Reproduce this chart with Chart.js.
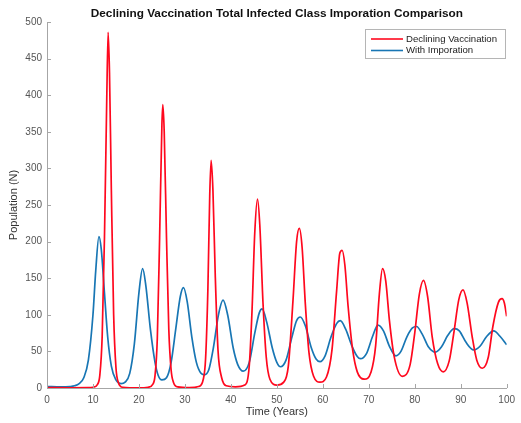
<!DOCTYPE html>
<html>
<head>
<meta charset="utf-8">
<script src="https://cdn.jsdelivr.net/npm/chart.js@4.4.1/dist/chart.umd.min.js"></script>
<style>
  html, body { margin: 0; padding: 0; background: #fff; }
  #wrap { width: 521px; height: 423px; position: relative; }
</style>
</head>
<body>
<div id="wrap"><canvas id="c" width="521" height="423"></canvas></div>
<script>
// Total infected class over time, two scenarios
const chartTitle = 'Declining Vaccination Total Infected Class Imporation Comparison';
const xAxisTitle = 'Time (Years)';
const yAxisTitle = 'Population (N)';
const seriesNames = ['Declining Vaccination', 'With Imporation'];

const xTicks = [0, 10, 20, 30, 40, 50, 60, 70, 80, 90, 100];
const yTicks = [0, 50, 100, 150, 200, 250, 300, 350, 400, 450, 500];

const decliningTime = [
  0, 5, 9, 10, 11, 11.5, 12, 12.5, 13, 13.3, 13.6, 14, 14.5, 15, 15.5, 16.5, 20,
  22, 23, 23.5, 24, 24.5, 25, 25.2, 25.5, 26, 26.5, 27, 27.5, 28.5, 31,
  33, 34, 34.5, 35, 35.4, 35.7, 36.1, 36.6, 37.2, 38, 39, 41,
  43, 44, 44.6, 45.2, 45.8, 46.3, 47, 47.7, 48.5, 50,
  51.5, 52.5, 53.5, 54.3, 54.9, 55.5, 56.2, 57, 58, 59.4,
  60.8, 62, 63, 63.7, 64.2, 64.8, 65.5, 66.5, 67.5, 69,
  70.5, 71.5, 72.3, 73, 73.7, 74.5, 75.5, 77.3,
  79, 80, 81, 81.9, 82.8, 83.8, 85, 86.2,
  87.5, 88.5, 89.6, 90.5, 91.4, 92.5, 93.5, 94.7,
  96, 97, 98.2, 99, 99.5, 100
];
const decliningValues = [
  0.5, 0.3, 0.5, 1, 5, 18, 70, 205, 395, 486, 430, 270, 100, 28, 8, 1, 0.3,
  1, 5, 17, 68, 205, 360, 387, 350, 205, 80, 25, 8, 1.5, 0.5,
  2, 12, 40, 135, 262, 311, 270, 155, 52, 14, 3, 1.5,
  4, 30, 105, 212, 258, 222, 115, 42, 12, 4,
  8, 30, 118, 200, 218, 192, 115, 48, 16, 8,
  15, 52, 132, 184, 188, 168, 112, 52, 22, 12,
  22, 58, 128, 163, 146, 92, 44, 16,
  32, 75, 128, 147, 125, 70, 33, 22,
  37, 75, 121, 134, 116, 70, 38, 27,
  42, 84, 117, 122, 116, 98
];

const importTime = [
  0, 3, 5, 6, 7, 8, 9, 10, 10.6, 11.3, 11.8, 12.5, 13.2, 14, 15, 16.1,
  17, 18, 19, 20, 20.8, 21.5, 22.5, 23.5, 24.2, 25,
  26, 27, 28, 29, 29.7, 30.5, 31.5, 32.5, 33.5, 34.2,
  35.2, 36.2, 37.3, 38.3, 39.3, 40.5, 41.5, 42.7,
  44, 45.2, 46.2, 46.8, 47.8, 49, 50, 50.8,
  52, 53.3, 54.3, 55.1, 56.2, 57.5, 58.5, 59.4,
  60.5, 61.8, 63, 63.8, 65, 66.3, 67.5, 68.2,
  69.5, 70.8, 72, 73.2, 74.5, 75.9,
  77, 78.3, 79.5, 80.4, 81.6, 83, 84.5,
  85.8, 87.2, 88.6, 89.7, 91.2, 92.8,
  94.2, 95.6, 97.2, 98.5, 100
];
const importValues = [
  2, 1.5, 2, 3, 6, 14, 38, 100, 160, 207, 190, 130, 70, 30, 11, 6,
  8, 20, 60, 130, 163, 140, 80, 35, 17, 11,
  14, 35, 80, 125, 137, 118, 70, 35, 20, 18,
  25, 55, 100, 120, 100, 55, 32, 23,
  35, 75, 103, 108, 90, 55, 35, 29,
  38, 70, 92, 97, 85, 55, 40, 36,
  44, 70, 88, 92, 80, 58, 43, 40,
  47, 70, 86, 78, 57, 44,
  50, 70, 82, 84, 74, 56, 49,
  56, 72, 81, 78, 62, 52,
  57, 70, 78, 71, 59
];

const RED = 'rgb(255, 8, 30)';
const BLUE = 'rgb(24, 118, 180)';
const AXIS_GREY = '#a6a6a6';
const TEXT_GREY = '#555';
const FONT = '"Liberation Sans", Arial, Helvetica, sans-serif';

const toPoints = (xs, ys) => xs.map((x, i) => ({ x: x, y: ys[i] }));

// Inward tick marks, title and boxed legend in the upper right
const decorations = {
  id: 'decorations',
  afterDraw(chart) {
    const ctx = chart.ctx;
    const area = chart.chartArea;
    const xs = chart.scales.x, ys = chart.scales.y;
    ctx.save();
    ctx.strokeStyle = AXIS_GREY;
    ctx.lineWidth = 1;
    ctx.beginPath();
    xTicks.forEach(v => {
      const px = Math.round(xs.getPixelForValue(v)) + 0.5;
      ctx.moveTo(px, area.bottom);
      ctx.lineTo(px, area.bottom - 4);
    });
    yTicks.forEach(v => {
      const py = Math.round(ys.getPixelForValue(v)) + 0.5;
      ctx.moveTo(area.left, py);
      ctx.lineTo(area.left + 4, py);
    });
    ctx.stroke();

    // title
    ctx.fillStyle = '#111';
    ctx.font = 'bold 11.8px ' + FONT;
    ctx.textAlign = 'center';
    ctx.textBaseline = 'middle';
    ctx.fillText(chartTitle, (area.left + area.right) / 2, 14);

    // legend
    const bx = 365.5, by = 29.5, bw = 140, bh = 29;
    ctx.fillStyle = '#fff';
    ctx.fillRect(bx, by, bw, bh);
    ctx.strokeStyle = '#b5b5b5';
    ctx.strokeRect(bx, by, bw, bh);
    ctx.font = '9.6px ' + FONT;
    ctx.textAlign = 'left';
    chart.data.datasets.forEach((ds, i) => {
      const ly = 39 + i * 11.5;
      ctx.strokeStyle = ds.borderColor;
      ctx.lineWidth = 1.6;
      ctx.beginPath();
      ctx.moveTo(371, ly);
      ctx.lineTo(403, ly);
      ctx.stroke();
      ctx.fillStyle = '#222';
      ctx.fillText(ds.label, 406, ly);
    });
    ctx.restore();
  }
};

new Chart(document.getElementById('c'), {
  type: 'line',
  data: {
    datasets: [
      {
        label: seriesNames[0],
        data: toPoints(decliningTime, decliningValues),
        borderColor: RED,
        borderWidth: 1.7,
        pointRadius: 0,
        cubicInterpolationMode: 'monotone',
        fill: false
      },
      {
        label: seriesNames[1],
        data: toPoints(importTime, importValues),
        borderColor: BLUE,
        borderWidth: 1.7,
        pointRadius: 0,
        cubicInterpolationMode: 'monotone',
        fill: false
      }
    ]
  },
  options: {
    responsive: false,
    animation: false,
    events: [],
    layout: { padding: { left: 0, top: 22, right: 9, bottom: 0 } },
    plugins: {
      legend: { display: false },
      title: { display: false },
      tooltip: { enabled: false }
    },
    scales: {
      x: {
        type: 'linear',
        min: 0, max: 100,
        afterFit(scale) { scale.height = 35; },
        afterBuildTicks(scale) { scale.ticks = xTicks.map(v => ({ value: v })); },
        grid: { display: false, drawTicks: false },
        border: { display: true, color: AXIS_GREY, width: 1 },
        ticks: { color: TEXT_GREY, font: { family: FONT, size: 10 }, padding: 6, maxRotation: 0 },
        title: { display: true, text: xAxisTitle, color: '#333', font: { family: FONT, size: 11 }, padding: { top: 0, bottom: 4 } }
      },
      y: {
        type: 'linear',
        min: 0, max: 500,
        afterFit(scale) { scale.width = 47; },
        afterBuildTicks(scale) { scale.ticks = yTicks.map(v => ({ value: v })); },
        grid: { display: false, drawTicks: false },
        border: { display: true, color: AXIS_GREY, width: 1 },
        ticks: { color: TEXT_GREY, font: { family: FONT, size: 10 }, padding: 5 },
        title: { display: true, text: yAxisTitle, color: '#333', font: { family: FONT, size: 11 }, padding: { top: 7, bottom: 0 } }
      }
    }
  },
  plugins: [decorations]
});
</script>
</body>
</html>
